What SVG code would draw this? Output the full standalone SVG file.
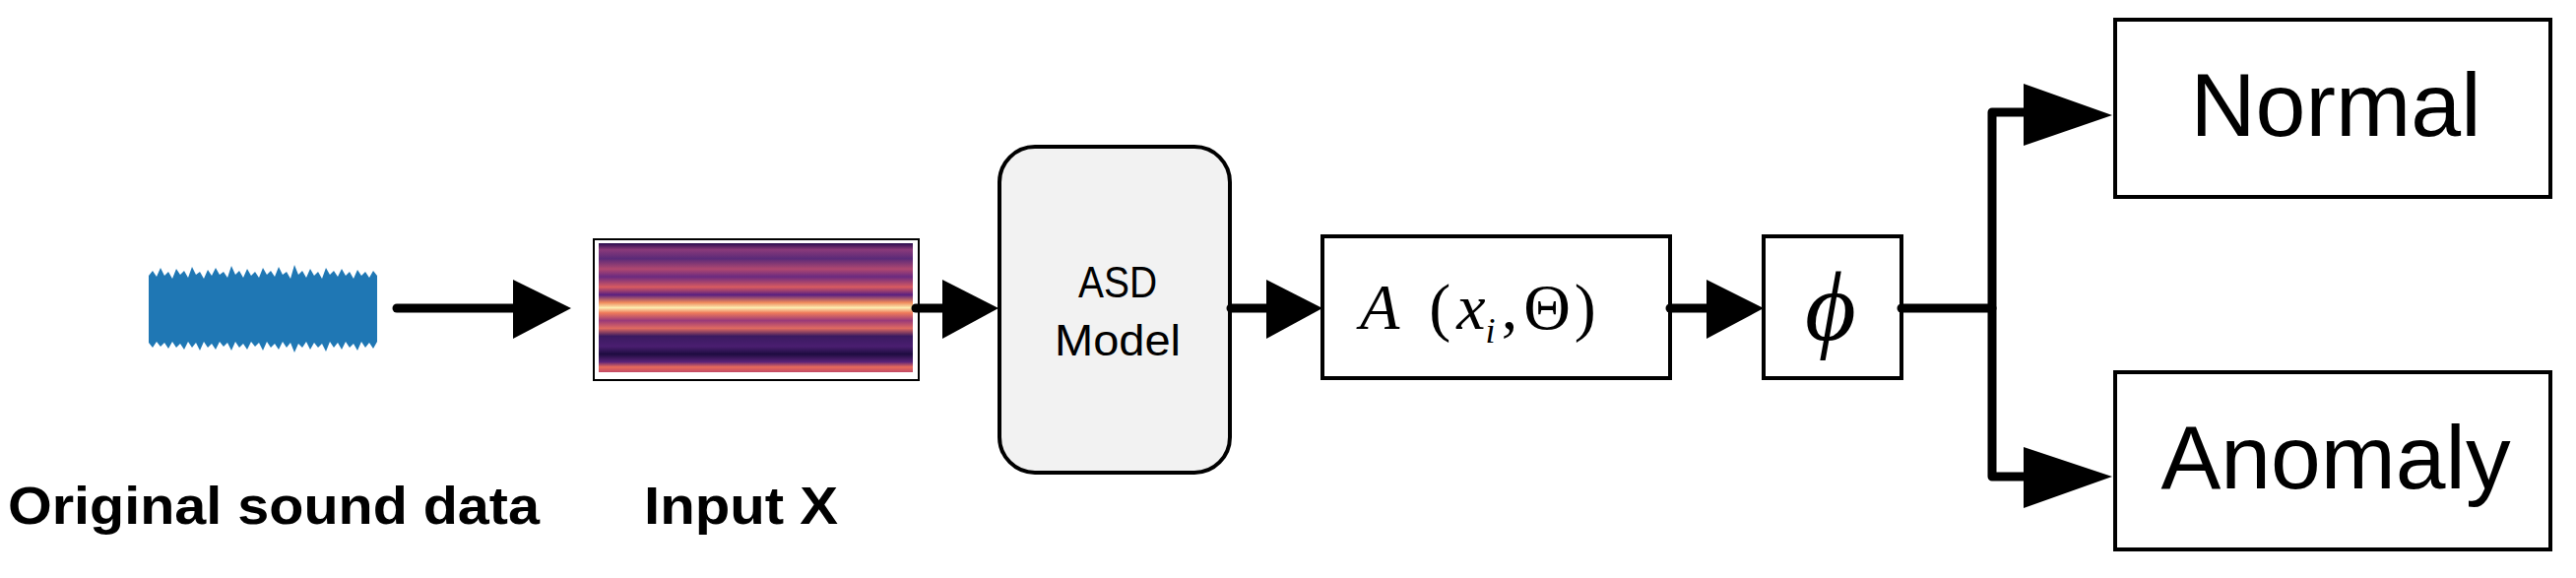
<svg xmlns="http://www.w3.org/2000/svg" width="2616" height="587" viewBox="0 0 2616 587">
<style>
.box{fill:#fff;stroke:#000;stroke-width:4}
.ln{stroke:#000;stroke-width:9;fill:none;stroke-linecap:round;stroke-linejoin:round}
.hd{fill:#000}
.sans{font-family:"Liberation Sans",Arial,sans-serif}
.lbl{font-family:"Liberation Sans",Arial,sans-serif;font-weight:bold;font-size:54px}
</style>
<defs>
<linearGradient id="spec" x1="0" y1="0" x2="0" y2="1">
<stop offset="0" stop-color="#2a0d4e"/>
<stop offset="0.05" stop-color="#8a3a7a"/>
<stop offset="0.12" stop-color="#5a2a78"/>
<stop offset="0.2" stop-color="#b04870"/>
<stop offset="0.26" stop-color="#6a2a80"/>
<stop offset="0.34" stop-color="#d85a60"/>
<stop offset="0.4" stop-color="#5a2080"/>
<stop offset="0.46" stop-color="#f08a5a"/>
<stop offset="0.5" stop-color="#fcecb0"/>
<stop offset="0.54" stop-color="#f07a5a"/>
<stop offset="0.6" stop-color="#9a3a78"/>
<stop offset="0.66" stop-color="#e06a60"/>
<stop offset="0.72" stop-color="#3a1a60"/>
<stop offset="0.8" stop-color="#4a1e70"/>
<stop offset="0.86" stop-color="#1e0c40"/>
<stop offset="0.92" stop-color="#5a2378"/>
<stop offset="0.96" stop-color="#e86a5a"/>
<stop offset="1" stop-color="#c04a66"/>
</linearGradient>
</defs>
<g id="waveform">
<path d="M151,280 L155,275 L159,281 L163,272 L167,280 L171,276 L175,283 L179,273 L183,279 L187,275 L191,282 L195,271 L199,279 L203,276 L207,283 L211,274 L215,280 L219,272 L223,279 L227,276 L231,282 L235,270 L239,279 L243,275 L247,282 L251,273 L255,280 L259,276 L263,282 L267,272 L271,279 L275,275 L279,281 L283,271 L287,279 L291,276 L295,283 L299,269 L303,279 L307,275 L311,282 L315,273 L319,280 L323,276 L327,283 L331,272 L335,279 L339,275 L343,281 L347,273 L351,280 L355,276 L359,283 L363,274 L367,280 L371,276 L375,282 L379,275 L383,280 L383,347 L379,354 L375,348 L371,353 L367,347 L363,356 L359,349 L355,353 L351,347 L347,355 L343,348 L339,353 L335,347 L331,357 L327,349 L323,353 L319,348 L315,355 L311,347 L307,353 L303,349 L299,358 L295,348 L291,353 L287,347 L283,355 L279,349 L275,353 L271,347 L267,356 L263,348 L259,352 L255,347 L251,355 L247,349 L243,353 L239,347 L235,356 L231,348 L227,352 L223,347 L219,355 L215,349 L211,353 L207,347 L203,356 L199,348 L195,353 L191,347 L187,355 L183,349 L179,353 L175,347 L171,354 L167,348 L163,352 L159,347 L155,353 L151,348 Z" fill="#1f77b4"/>
</g>
<g id="spectrogram">
<rect x="603" y="243" width="330" height="143" fill="#fff" stroke="#000" stroke-width="2"/>
<rect x="608" y="247" width="319" height="131" fill="url(#spec)"/>
</g>
<g id="asd">
<rect x="1015" y="149" width="234" height="331" rx="36" fill="#f2f2f2" stroke="#000" stroke-width="4"/>
<text x="1135" y="302" text-anchor="middle" class="sans" font-size="44" textLength="80" lengthAdjust="spacingAndGlyphs">ASD</text>
<text x="1135" y="361" text-anchor="middle" class="sans" font-size="44" textLength="128" lengthAdjust="spacingAndGlyphs">Model</text>
</g>
<g id="score">
<rect class="box" x="1343" y="240" width="353" height="144"/>
<text x="1381" y="334" font-family="'Liberation Serif','Times New Roman',serif" font-size="66"><tspan font-style="italic">A</tspan><tspan dx="30">(</tspan><tspan dx="6" font-style="italic">x</tspan><tspan font-style="italic" font-size="36" dy="14">i</tspan><tspan dy="-14" dx="6">,</tspan><tspan dx="6">Θ</tspan><tspan dx="4">)</tspan></text>
</g>
<g id="phi">
<rect class="box" x="1791" y="240" width="140" height="144"/>
<text x="1859" y="345" text-anchor="middle" font-family="'Liberation Serif','Times New Roman',serif" font-style="italic" font-size="100">ϕ</text>
</g>
<g id="normal">
<rect class="box" x="2148" y="20" width="442" height="180"/>
<text x="2372" y="138" text-anchor="middle" class="sans" font-size="90" textLength="295" lengthAdjust="spacingAndGlyphs">Normal</text>
</g>
<g id="anomaly">
<rect class="box" x="2148" y="378" width="442" height="180"/>
<text x="2372" y="496" text-anchor="middle" class="sans" font-size="90" textLength="355" lengthAdjust="spacingAndGlyphs">Anomaly</text>
</g>
<g id="connectors">
<line class="ln" x1="403" y1="313" x2="525" y2="313"/>
<polygon class="hd" points="521,284 580,313 521,344"/>
<line class="ln" x1="930" y1="313" x2="960" y2="313"/>
<polygon class="hd" points="957,284 1014,313 957,344"/>
<line class="ln" x1="1250" y1="313" x2="1290" y2="313"/>
<polygon class="hd" points="1286,284 1343,313 1286,344"/>
<line class="ln" x1="1696" y1="313" x2="1735" y2="313"/>
<polygon class="hd" points="1733,284 1791,313 1733,344"/>
<polyline class="ln" points="1931,313 2023,313"/>
<polyline class="ln" points="2060,114 2023,114 2023,484 2060,484"/>
<polygon class="hd" points="2055,85 2145,117 2055,148"/>
<polygon class="hd" points="2055,454 2145,484 2055,516"/>
</g>
<text x="8" y="532" class="lbl" textLength="540" lengthAdjust="spacingAndGlyphs">Original sound data</text>
<text x="654" y="532" class="lbl" textLength="197" lengthAdjust="spacingAndGlyphs">Input X</text>
</svg>
